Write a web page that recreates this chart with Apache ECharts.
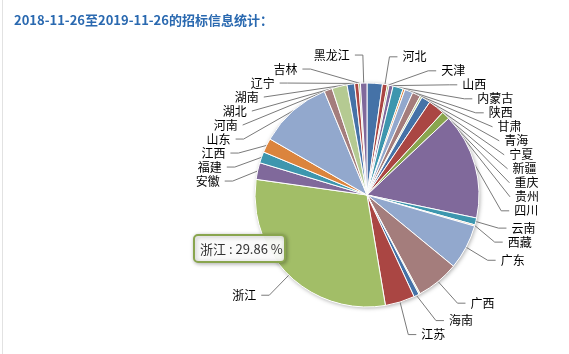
<!DOCTYPE html>
<html>
<head>
<meta charset="utf-8">
<script src="https://cdn.jsdelivr.net/npm/echarts@6/dist/echarts.min.js"></script>
<style>
  html, body { margin: 0; padding: 0; background: #fff; }
  #main { width: 569px; height: 354px; }
</style>
</head>
<body>
<div id="main"></div>
<script>
// 省份（顺时针，从12点方向开始）
const provinces = ['北京', '河北', '天津', '山西', '内蒙古', '陕西', '甘肃', '青海', '宁夏', '新疆',
  '重庆', '贵州', '四川', '云南', '西藏', '广东', '广西', '上海', '海南', '江苏',
  '浙江', '安徽', '福建', '江西', '山东', '河南', '湖北', '湖南', '辽宁', '吉林', '黑龙江'];
const counts = [221, 71, 24, 59, 147, 29, 118, 118, 29, 130,
  236, 118, 1530, 100, 18, 648, 619, 18, 77, 427,
  2986, 242, 162, 206, 1045, 118, 218, 109, 59, 24, 94];
// 标签被遮挡的省份
const hiddenLabels = ['北京', '上海'];
const palette = ['#4572A7', '#AA4643', '#89A54E', '#80699B', '#3D96AE', '#DB843D', '#92A8CD', '#A47D7C', '#B5CA92'];
const titleText = '2018-11-26至2019-11-26的招标信息统计：';
const tipName = '浙江';
const tipColor = '#A2BE67'; // 悬停时提亮

const total = counts.reduce((a, b) => a + b, 0);
const tipIndex = provinces.indexOf(tipName);
const tipText = tipName + ' : ' + (counts[tipIndex] / total * 100).toFixed(2) + ' %';

const pieData = provinces.map((name, i) => {
  const item = {
    name: name,
    value: counts[i],
    itemStyle: { color: i === tipIndex ? tipColor : palette[i % palette.length] },
  };
  if (hiddenLabels.includes(name)) {
    item.label = { show: false };
    item.labelLine = { show: false };
  }
  return item;
});

const myChart = echarts.init(document.getElementById('main'));
const option = {
  backgroundColor: '#fff',
  animation: false,
  title: {
    text: titleText,
    left: 9,
    top: 9,
    textStyle: {
      fontSize: 13,
      fontWeight: 'bold',
      color: '#2a69b0',
      fontFamily: 'Noto Sans CJK SC',
    },
  },
  series: [
    {
      // 饼图阴影底
      type: 'pie',
      center: [367, 195],
      radius: 112,
      silent: true,
      z: 1,
      label: { show: false },
      labelLine: { show: false },
      itemStyle: {
        color: '#fff',
        shadowBlur: 4,
        shadowOffsetX: 1,
        shadowOffsetY: 1,
        shadowColor: 'rgba(0,0,0,0.35)',
      },
      data: [{ value: 1, itemStyle: { color: '#fff' } }],
    },
    {
      type: 'pie',
      center: [367, 195],
      radius: 112,
      startAngle: 90,
      clockwise: true,
      z: 2,
      avoidLabelOverlap: true,
      itemStyle: {
        borderColor: '#fff',
        borderWidth: 1,
      },
      label: {
        color: '#000',
        fontSize: 12,
        fontFamily: 'Noto Sans CJK SC',
      },
      labelLine: {
        length: 28,
        length2: 8,
        lineStyle: {
          color: '#7a7a7a',
          width: 1,
        },
      },
      emphasis: { disabled: true },
      data: pieData,
    },
  ],
  graphic: [
    {
      type: 'line',
      shape: { x1: 2.5, y1: 0, x2: 2.5, y2: 354 },
      style: { stroke: '#e2e2e2', lineWidth: 1 },
      silent: true,
    },
    {
      type: 'rect',
      x: 194,
      y: 235,
      z: 100,
      zlevel: 1,
      shape: { x: 0, y: 0, width: 91, height: 27, r: 4 },
      style: {
        fill: 'rgba(255,255,255,0.93)',
        stroke: '#89A54E',
        lineWidth: 2,
        shadowBlur: 4,
        shadowOffsetX: 1,
        shadowOffsetY: 1,
        shadowColor: 'rgba(0,0,0,0.3)',
      },
    },
    {
      type: 'text',
      x: 200,
      y: 249,
      z: 101,
      zlevel: 1,
      style: {
        text: tipText,
        fontSize: 13,
        fill: '#333',
        fontFamily: 'Noto Sans CJK SC',
        verticalAlign: 'middle',
      },
    },
  ],
};
myChart.setOption(option);
window.addEventListener('resize', () => {
  myChart.resize();
});
</script>
</body>
</html>
